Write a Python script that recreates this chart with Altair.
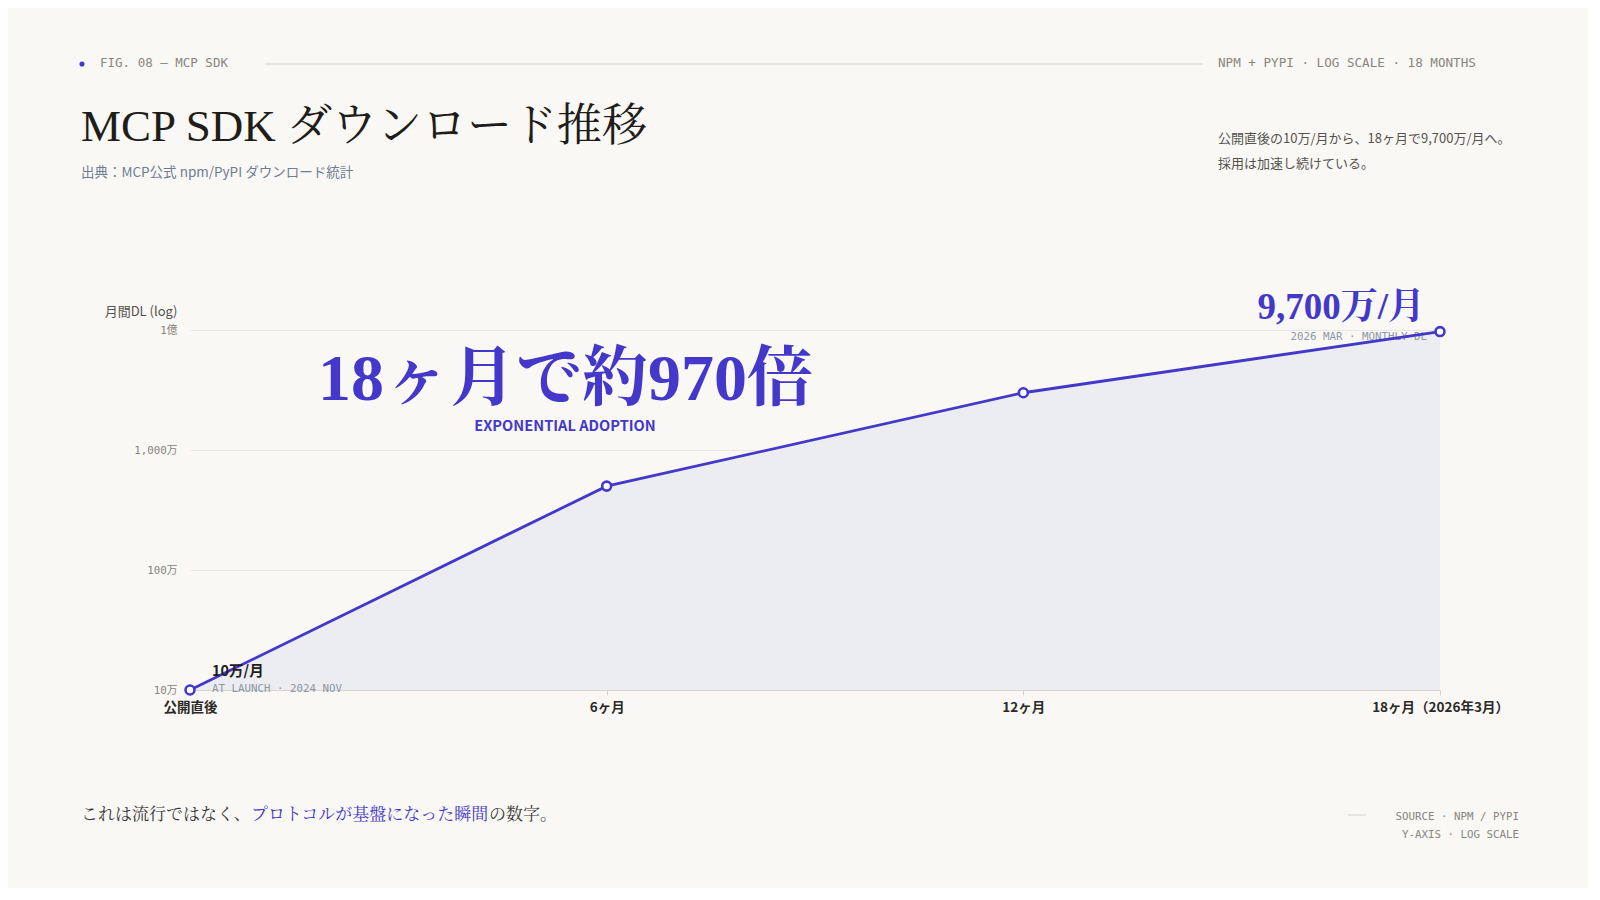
import altair as alt
import pandas as pd

# ---------------- data ----------------
months = [0, 6, 12, 18]
downloads = [100_000, 5_000_000, 30_000_000, 97_000_000]
x_tick_labels = ["公開直後", "6ヶ月", "12ヶ月", "18ヶ月（2026年3月）"]
y_ticks = [100_000, 1_000_000, 10_000_000, 100_000_000]
y_tick_labels = ["10万", "100万", "1,000万", "1億"]

fig_tag = "FIG. 08 — MCP SDK"
meta_tag = "NPM + PYPI · LOG SCALE · 18 MONTHS"
title_text = "MCP SDK ダウンロード推移"
subtitle_text = "出典：MCP公式 npm/PyPI ダウンロード統計"
desc_lines = ["公開直後の10万/月から、18ヶ月で9,700万/月へ。", "採用は加速し続けている。"]
y_title = "月間DL (log)"
start_label = "10万/月"
start_sub = "AT LAUNCH · 2024 NOV"
end_label = "9,700万/月"
end_sub = "2026 MAR · MONTHLY DL"
headline = "18ヶ月で約970倍"
headline_sub = "EXPONENTIAL ADOPTION"
footer_parts = ["これは流行ではなく、", "プロトコルが基盤になった瞬間", "の数字。"]
source_lines = ["SOURCE · NPM / PYPI", "Y-AXIS · LOG SCALE"]

# ---------------- style ----------------
BG = "#f9f8f5"
BLUE = "#4338ca"
FILL = "#ecedf0"
WARM_GRAY = "#8a857d"
SLATE = "#8e97a6"
SERIF = "Liberation Serif, Noto Serif CJK JP, Noto Sans CJK JP, serif"
SANS = "Noto Sans CJK JP, Noto Sans, sans-serif"
MONO = "DejaVu Sans Mono, Noto Sans CJK JP, monospace"

W, H = 1250, 360
PX, PY = 190, 330  # page position of plot origin

df = pd.DataFrame({"month": months, "dl": downloads})


def ternary(values, labels):
    expr = "''"
    for v, l in reversed(list(zip(values, labels))):
        expr = f"datum.value == {v} ? '{l}' : ({expr})"
    return expr


x_enc = alt.X(
    "month:Q",
    scale=alt.Scale(domain=[0, 18], nice=False, zero=False),
    axis=alt.Axis(
        values=months,
        labelExpr=ternary(months, x_tick_labels),
        title=None,
        grid=False,
        domainColor="#d6d3cc",
        tickColor="#d6d3cc",
        tickSize=5,
        labelFont=SANS,
        labelFontWeight="bold",
        labelFontSize=13.5,
        labelColor="#2b2926",
        labelPadding=5,
        labelFlush=False,
    ),
)
y_enc = alt.Y(
    "dl:Q",
    scale=alt.Scale(type="log", domain=[100_000, 100_000_000], nice=False),
    axis=alt.Axis(
        values=y_ticks,
        labelExpr=ternary(y_ticks, y_tick_labels),
        grid=True,
        gridColor="#ebe8e3",
        gridWidth=1,
        domain=False,
        ticks=False,
        labelPadding=13,
        labelFont=MONO,
        labelFontSize=10.8,
        labelColor=WARM_GRAY,
        title=y_title,
        titleAngle=0,
        titleAlign="right",
        titleBaseline="alphabetic",
        titleX=-13,
        titleY=-15,
        titleFont=SANS,
        titleFontSize=13,
        titleFontWeight="normal",
        titleColor="#55524d",
    ),
)

base = alt.Chart(df)

area = base.mark_area(color=FILL).encode(x=x_enc, y=y_enc, y2=alt.datum(100_000))
line = base.mark_line(color=BLUE, strokeWidth=2.8).encode(x="month:Q", y="dl:Q")
points = base.mark_point(
    shape="circle", fill="#ffffff", fillOpacity=1, stroke=BLUE, strokeWidth=2.6, size=80, opacity=1
).encode(x="month:Q", y="dl:Q")

first = base.transform_filter(alt.datum.month == months[0])
last = base.transform_filter(alt.datum.month == months[-1])

start_a = first.mark_text(
    text=start_label, align="left", baseline="alphabetic", dx=22, dy=-14,
    font=SANS, fontSize=14.5, fontWeight="bold", color="#1f1d1a",
).encode(x="month:Q", y="dl:Q")
start_b = first.mark_text(
    text=start_sub, align="left", baseline="alphabetic", dx=22, dy=2,
    font=MONO, fontSize=10.8, color=SLATE,
).encode(x="month:Q", y="dl:Q")
end_a = last.mark_text(
    text=end_label, align="right", baseline="alphabetic", dx=-15, dy=-13,
    font=SERIF, fontSize=37, fontWeight="bold", color=BLUE,
).encode(x="month:Q", y="dl:Q")
end_b = last.mark_text(
    text=end_sub, align="right", baseline="alphabetic", dx=-13, dy=8,
    font=MONO, fontSize=10.8, color=SLATE,
).encode(x="month:Q", y="dl:Q")

one = pd.DataFrame({"k": [0]})


def fixed_text(text, px, py, **kw):
    return alt.Chart(one).mark_text(text=text, baseline="alphabetic", **kw).encode(
        x=alt.value(px - PX), y=alt.value(py - PY)
    )


fs = 17
texts = [
    fixed_text(fig_tag, 100, 67, align="left", font=MONO, fontSize=12.5, color=WARM_GRAY),
    fixed_text(meta_tag, 1218, 67, align="left", font=MONO, fontSize=12.6, color=WARM_GRAY),
    fixed_text(title_text, 81, 141, align="left", font=SERIF, fontSize=45, color="#1f1d1a"),
    fixed_text(subtitle_text, 81, 177, align="left", font=SANS, fontSize=13.5, color="#6e7d91"),
    fixed_text(desc_lines[0], 1218, 143, align="left", font=SANS, fontSize=13, color="#55524d"),
    fixed_text(desc_lines[1], 1218, 168, align="left", font=SANS, fontSize=13, color="#55524d"),
    fixed_text(headline, 318, 400, align="left", font=SERIF, fontSize=66, fontWeight="bold", color=BLUE),
    fixed_text(headline_sub, 565, 431, align="center", font=SANS, fontSize=14.6, fontWeight="bold", color=BLUE),
    fixed_text(footer_parts[0], 81, 820, align="left", font=SERIF, fontSize=fs, color="#3a3835"),
    fixed_text(footer_parts[1], 81 + fs * len(footer_parts[0]), 820, align="left", font=SERIF, fontSize=fs, color=BLUE),
    fixed_text(footer_parts[2], 81 + fs * (len(footer_parts[0]) + len(footer_parts[1])), 820, align="left",
               font=SERIF, fontSize=fs, color="#3a3835"),
    fixed_text(source_lines[0], 1519, 820, align="right", font=MONO, fontSize=10.8, color=WARM_GRAY),
    fixed_text(source_lines[1], 1519, 838, align="right", font=MONO, fontSize=10.8, color=WARM_GRAY),
]

dot = alt.Chart(one).mark_circle(color=BLUE, size=26, opacity=1).encode(
    x=alt.value(82 - PX), y=alt.value(64 - PY)
)
header_rule = alt.Chart(one).mark_rule(color="#d6d2cb", strokeWidth=1).encode(
    x=alt.value(265 - PX), x2=alt.value(1203 - PX), y=alt.value(64 - PY)
)
footer_rule = alt.Chart(one).mark_rule(color="#d6d2cb", strokeWidth=1).encode(
    x=alt.value(1348 - PX), x2=alt.value(1366 - PX), y=alt.value(815 - PY)
)

chart = alt.layer(
    area, end_b, start_b, line, points, start_a, end_a, dot, header_rule, footer_rule, *texts
).properties(
    width=W,
    height=H,
    padding={"left": PX - 8, "top": PY - 8, "right": 1580 - (PX - 8) - W, "bottom": 880 - (PY - 8) - H},
    autosize=alt.AutoSizeParams(type="none"),
    background=BG,
).configure_view(stroke=None)

chart.save("out.html", embed_options={"renderer": "svg", "actions": False})
